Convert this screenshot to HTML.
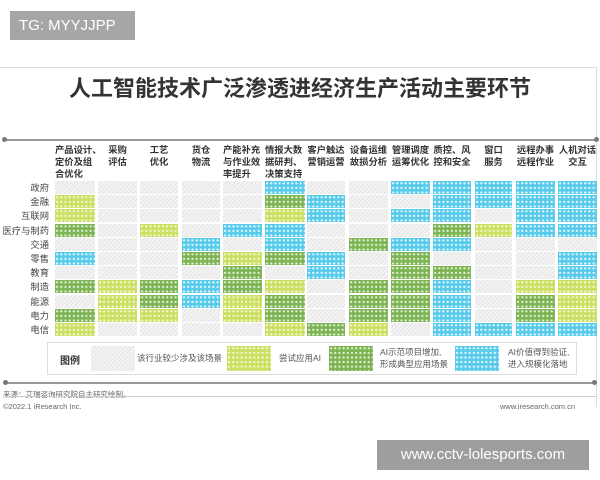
<!DOCTYPE html>
<html><head><meta charset="utf-8"><style>
*{margin:0;padding:0;box-sizing:border-box}
body{width:600px;height:480px;background:#fff;position:relative;overflow:hidden;font-family:"Liberation Sans","Noto Sans CJK SC",sans-serif;color:#333}
.a{position:absolute}
.c{position:absolute;height:13px}
.G{background:repeating-linear-gradient(135deg,#e4e4e4 0 1px,#f4f4f4 1px 3px)}
.Y{background:radial-gradient(circle,#f4f8d8 0.9px,transparent 1.3px) 0 0/4.2px 4.6px,#cddf62}
.D{background:radial-gradient(circle,#e4f0d8 0.9px,transparent 1.3px) 0 0/4.2px 4.6px,#7db454}
.B{background:radial-gradient(circle,#e6f8fd 0.9px,transparent 1.3px) 0 0/4.2px 4.6px,#58cbeb}
.h{position:absolute;top:144px;font-size:9.3px;font-weight:bold;line-height:12px;color:#333;white-space:nowrap}
.r{position:absolute;left:0;width:49px;text-align:right;font-size:9.3px;line-height:14px;color:#444;white-space:nowrap}
.dot{position:absolute;width:5px;height:5px;border-radius:50%;background:#777}
</style></head><body>
<div class="a" style="left:10px;top:11px;width:125px;height:29px;background:#a6a6a6;color:#fff;font-size:15px;line-height:29px;padding-left:9px">TG: MYYJJPP</div>
<div class="a" style="left:0;top:67px;width:597px;height:340px;border-top:1px solid #ddd;border-right:1px solid #ddd"></div>
<div class="a" style="left:0;top:71px;width:600px;text-align:center;font-size:22px;font-weight:bold;color:#333;font-family:'Noto Sans CJK SC',sans-serif">人工智能技术广泛渗透进经济生产活动主要环节</div>
<div class="a" style="left:4px;top:139px;width:592px;height:2px;background:#999"></div>
<div class="dot" style="left:2px;top:137px"></div><div class="dot" style="left:594px;top:137px"></div>
<div id="g"></div>
<div class="a" style="left:47px;top:342px;width:530px;height:33px;border:1px solid #ddd"></div>
<div class="a" style="left:60px;top:352px;font-size:10px;font-weight:bold">图例</div>
<div class="a G" style="left:91px;top:346px;width:44px;height:25px"></div>
<div class="a" style="left:137px;top:352px;font-size:8.5px;color:#555">该行业较少涉及该场景</div>
<div class="a Y" style="left:227px;top:346px;width:44px;height:25px"></div>
<div class="a" style="left:279px;top:352px;font-size:8.5px;color:#555">尝试应用AI</div>
<div class="a D" style="left:329px;top:346px;width:44px;height:25px"></div>
<div class="a" style="left:380px;top:346px;font-size:8.5px;line-height:12px;color:#555">AI示范项目增加,<br>形成典型应用场景</div>
<div class="a B" style="left:455px;top:346px;width:44px;height:25px"></div>
<div class="a" style="left:508px;top:346px;font-size:8.5px;line-height:12px;color:#555">AI价值得到验证,<br>进入规模化落地</div>
<div class="a" style="left:5px;top:382px;width:590px;height:2px;background:#999"></div>
<div class="dot" style="left:3px;top:380px"></div><div class="dot" style="left:592px;top:380px"></div>
<div class="a" style="left:3px;top:389px;font-size:7.5px;color:#666">来源：艾瑞咨询研究院自主研究绘制。</div>
<div class="a" style="left:3px;top:396px;width:594px;height:1px;background:#ccc"></div>
<div class="a" style="left:3px;top:402px;font-size:7.5px;color:#666">©2022.1 iResearch Inc.</div>
<div class="a" style="left:500px;top:402px;font-size:7.5px;color:#666">www.iresearch.com.cn</div>
<div class="a" style="left:377px;top:440px;width:212px;height:30px;background:#9e9e9e;color:#fff;font-size:15px;line-height:30px;text-align:center">www.cctv-lolesports.com</div>
<script>
var xs=[55,98,140,182,223,265,307,349,391,433,475,516,558],w=[40,39,38,38,39,40,38,39,39,38,37,39,39];
var d=["GYYDGBGDGDY","GGGGGGGYYYG","GGGYGGGDDYG","GGGGBDGBBGG","GGGBGYDDYYG","BDYBBDGYDDY","GBBGGBBGGGD","GGGGDGGDDDY","BGBGBDDDDDG","BBBDBGDBBBB","BBGYGGGGGGB","BBBBGGGYDDB","BBBBGBBYYYB"];
var hd=["产品设计、<br>定价及组<br>合优化","采购<br>评估","工艺<br>优化","货仓<br>物流","产能补充<br>与作业效<br>率提升","情报大数<br>据研判、<br>决策支持","客户触达<br>营销运营","设备运维<br>故损分析","管理调度<br>运筹优化","质控、风<br>控和安全","窗口<br>服务","远程办事<br>远程作业","人机对话<br>交互"];
var rw=["政府","金融","互联网","医疗与制药","交通","零售","教育","制造","能源","电力","电信"];
var s="";
for(var c=0;c<13;c++){var L=(c==0||c==4||c==5);s+='<div class="h" style="left:'+(L?xs[c]:xs[c]-6)+'px;'+(L?'':'width:'+(w[c]+12)+'px;text-align:center')+'">'+hd[c]+'</div>';
for(var r=0;r<11;r++)s+='<div class="c '+d[c][r]+'" style="left:'+xs[c]+'px;top:'+(181+r*14.2)+'px;width:'+w[c]+'px"></div>';}
for(var r=0;r<11;r++)s+='<div class="r" style="top:'+(181+r*14.2)+'px">'+rw[r]+'</div>';
document.getElementById("g").innerHTML=s;
</script>
</body></html>
